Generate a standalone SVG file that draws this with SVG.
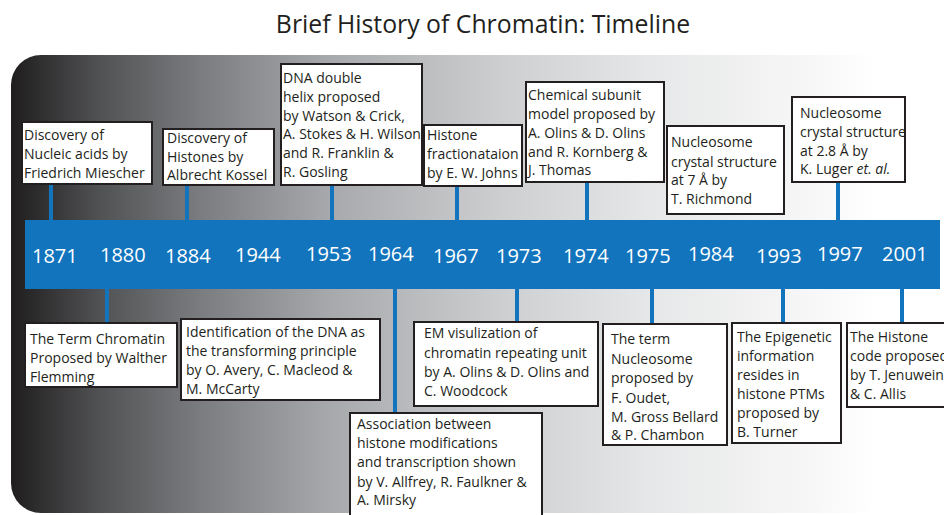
<svg xmlns="http://www.w3.org/2000/svg" width="944" height="515" viewBox="0 0 944 515">
<defs>
<linearGradient id="bg" gradientUnits="userSpaceOnUse" x1="11" y1="0" x2="944" y2="0">
<stop offset="0" stop-color="#1f1d1e"/>
<stop offset="0.096" stop-color="#515254"/>
<stop offset="0.203" stop-color="#7b7c7f"/>
<stop offset="0.343" stop-color="#a8a9ac"/>
<stop offset="0.524" stop-color="#cdced0"/>
<stop offset="0.685" stop-color="#e6e7e8"/>
<stop offset="0.846" stop-color="#f6f6f6"/>
<stop offset="0.93" stop-color="#ffffff"/>
</linearGradient>
<style>
.t{font-family:"Open Sans","Noto Sans",sans-serif;font-size:14px;fill:#231f20}
.yr{font-family:"Open Sans","Noto Sans",sans-serif;font-size:20px;fill:#ffffff}
.bx{fill:#ffffff;stroke:#231f20;stroke-width:2}
.cn{fill:#1174bd}
</style>
</defs>
<rect width="944" height="515" fill="#ffffff"/>
<path d="M41,55 H960 V513 H41 A30,30 0 0 1 11,483 V85 A30,30 0 0 1 41,55 Z" fill="url(#bg)"/>
<text x="483" y="33" text-anchor="middle" style="font-family:'Open Sans','Noto Sans',sans-serif;font-size:24.8px;fill:#231f20">Brief History of Chromatin: Timeline</text>

<g id="connectors">
<rect class="cn" x="49" y="184" width="4" height="38"/>
<rect class="cn" x="185" y="185" width="4" height="37"/>
<rect class="cn" x="330" y="185" width="4" height="37"/>
<rect class="cn" x="455" y="186" width="4" height="36"/>
<rect class="cn" x="585" y="182" width="4" height="40"/>
<rect class="cn" x="836" y="182" width="4" height="40"/>
<rect class="cn" x="105" y="287" width="4" height="36"/>
<rect class="cn" x="393" y="287" width="4" height="126"/>
<rect class="cn" x="515" y="287" width="4" height="35"/>
<rect class="cn" x="650" y="287" width="4" height="37"/>
<rect class="cn" x="781" y="287" width="4" height="36"/>
<rect class="cn" x="900" y="287" width="4" height="36"/>
</g>

<g id="timeline">
<rect x="25" y="220" width="915" height="69" fill="#1174bd"/>
<text class="yr" x="32" y="263">1871</text>
<text class="yr" x="100" y="262">1880</text>
<text class="yr" x="165" y="263">1884</text>
<text class="yr" x="235" y="262">1944</text>
<text class="yr" x="306" y="261">1953</text>
<text class="yr" x="368" y="261">1964</text>
<text class="yr" x="433" y="263">1967</text>
<text class="yr" x="496" y="263">1973</text>
<text class="yr" x="563" y="263">1974</text>
<text class="yr" x="625" y="263">1975</text>
<text class="yr" x="688" y="261">1984</text>
<text class="yr" x="756" y="263">1993</text>
<text class="yr" x="817" y="261">1997</text>
<text class="yr" x="882" y="261">2001</text>
</g>

<g id="n1871">
<rect class="bx" x="22" y="122" width="130" height="62"/>
<text class="t" x="24" y="140">Discovery of</text>
<text class="t" x="24" y="159">Nucleic acids by</text>
<text class="t" x="24" y="178">Friedrich Miescher</text>
</g>
<g id="n1884">
<rect class="bx" x="163" y="129" width="111" height="56"/>
<text class="t" x="167" y="143">Discovery of</text>
<text class="t" x="167" y="162">Histones  by</text>
<text class="t" x="167" y="180">Albrecht Kossel</text>
</g>
<g id="n1953">
<rect class="bx" x="281" y="64" width="141" height="121"/>
<text class="t" x="283" y="83">DNA double</text>
<text class="t" x="283" y="102">helix proposed</text>
<text class="t" x="283" y="121">by Watson &amp; Crick,</text>
<text class="t" x="283" y="139">A. Stokes &amp; H. Wilson</text>
<text class="t" x="283" y="158">and R. Franklin &amp;</text>
<text class="t" x="283" y="177">R. Gosling</text>
</g>
<g id="n1967">
<rect class="bx" x="424" y="125" width="98" height="61"/>
<text class="t" x="427" y="140">Histone</text>
<text class="t" x="427" y="159">fractionataion</text>
<text class="t" x="427" y="178">by E. W. Johns</text>
</g>
<g id="n1974">
<rect class="bx" x="526" y="82" width="138" height="100"/>
<text class="t" x="528" y="100">Chemical subunit</text>
<text class="t" x="528" y="119">model proposed by</text>
<text class="t" x="528" y="138">A. Olins &amp; D. Olins</text>
<text class="t" x="528" y="157">and R. Kornberg &amp;</text>
<text class="t" x="528" y="175">J. Thomas</text>
</g>
<g id="n1984">
<rect class="bx" x="667" y="126" width="117" height="88"/>
<text class="t" x="671" y="147">Nucleosome</text>
<text class="t" x="671" y="167">crystal structure</text>
<text class="t" x="671" y="185">at 7 Å by</text>
<text class="t" x="671" y="204">T. Richmond</text>
</g>
<g id="n1997">
<rect class="bx" x="792" y="97" width="113" height="85"/>
<text class="t" x="800" y="118">Nucleosome</text>
<text class="t" x="800" y="137">crystal structure</text>
<text class="t" x="800" y="156">at 2.8 Å by</text>
<text class="t" x="800" y="174">K. Luger <tspan font-style="italic">et. al.</tspan></text>
</g>

<g id="n1880">
<rect class="bx" x="25" y="323" width="152" height="64"/>
<text class="t" x="30" y="344">The Term Chromatin</text>
<text class="t" x="30" y="363">Proposed by Walther</text>
<text class="t" x="30" y="382">Flemming</text>
</g>
<g id="n1944">
<rect class="bx" x="181" y="319" width="199" height="81"/>
<text class="t" x="186" y="337">Identification of the DNA as</text>
<text class="t" x="186" y="356">the transforming principle</text>
<text class="t" x="186" y="375">by O. Avery, C. Macleod &amp;</text>
<text class="t" x="186" y="394">M. McCarty</text>
</g>
<g id="n1964">
<rect class="bx" x="350" y="413" width="192" height="110"/>
<text class="t" x="357" y="429">Association between</text>
<text class="t" x="357" y="448">histone modifications</text>
<text class="t" x="357" y="467">and transcription shown</text>
<text class="t" x="357" y="487">by V. Allfrey, R. Faulkner &amp;</text>
<text class="t" x="357" y="505">A. Mirsky</text>
</g>
<g id="n1973">
<rect class="bx" x="414" y="322" width="184" height="84"/>
<text class="t" x="424" y="338">EM visulization of</text>
<text class="t" x="424" y="358">chromatin repeating unit</text>
<text class="t" x="424" y="377">by A. Olins &amp; D. Olins and</text>
<text class="t" x="424" y="396">C. Woodcock</text>
</g>
<g id="n1975">
<rect class="bx" x="603" y="324" width="124" height="121"/>
<text class="t" x="611" y="344">The term</text>
<text class="t" x="611" y="364">Nucleosome</text>
<text class="t" x="611" y="383">proposed by</text>
<text class="t" x="611" y="403">F. Oudet,</text>
<text class="t" x="611" y="422">M. Gross Bellard</text>
<text class="t" x="611" y="440">&amp; P. Chambon</text>
</g>
<g id="n1993">
<rect class="bx" x="732" y="323" width="109" height="120"/>
<text class="t" x="737" y="342">The Epigenetic</text>
<text class="t" x="737" y="361">information</text>
<text class="t" x="737" y="380">resides in</text>
<text class="t" x="737" y="399">histone PTMs</text>
<text class="t" x="737" y="418">proposed by</text>
<text class="t" x="737" y="437">B. Turner</text>
</g>
<g id="n2001">
<rect class="bx" x="847" y="323" width="110" height="84"/>
<text class="t" x="850" y="342">The Histone</text>
<text class="t" x="850" y="361">code proposed</text>
<text class="t" x="850" y="380">by T. Jenuwein</text>
<text class="t" x="850" y="399">&amp; C. Allis</text>
</g>
</svg>
